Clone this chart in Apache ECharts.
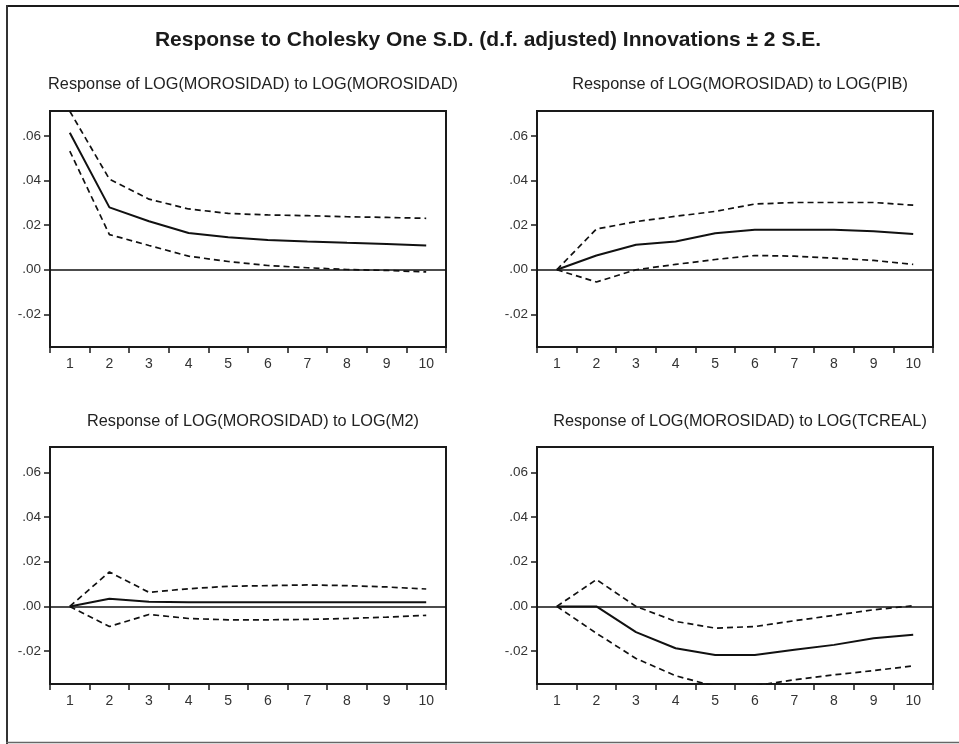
<!DOCTYPE html>
<html>
<head>
<meta charset="utf-8">
<script src="https://cdn.jsdelivr.net/npm/echarts@6/dist/echarts.min.js"></script>
<style>
html,body{margin:0;padding:0;background:#fff;}
#chart{width:959px;height:744px;}
</style>
</head>
<body>
<div id="chart"></div>
<script>
// ---- data ----
const periods = ['1','2','3','4','5','6','7','8','9','10'];
const yTicks = [-0.02, 0, 0.02, 0.04, 0.06];

const mainTitle = 'Response to Cholesky One S.D. (d.f. adjusted) Innovations \u00B1 2 S.E.';
const panelTitles = [
  'Response of LOG(MOROSIDAD) to LOG(MOROSIDAD)',
  'Response of LOG(MOROSIDAD) to LOG(PIB)',
  'Response of LOG(MOROSIDAD) to LOG(M2)',
  'Response of LOG(MOROSIDAD) to LOG(TCREAL)'
];

// Response of LOG(MOROSIDAD) to LOG(MOROSIDAD)
const morResp  = [0.0615, 0.0280, 0.0218, 0.0165, 0.0146, 0.0134, 0.0127, 0.0121, 0.0116, 0.0109];
const morUpper = [0.0712, 0.0407, 0.0317, 0.0273, 0.0253, 0.0246, 0.0243, 0.0238, 0.0235, 0.0231];
const morLower = [0.0533, 0.0158, 0.0109, 0.0061, 0.0037, 0.0019, 0.0009, 0.0001, -0.0003, -0.0010];

// Response of LOG(MOROSIDAD) to LOG(PIB)
const pibResp  = [0.0000, 0.0064, 0.0112, 0.0127, 0.0164, 0.0180, 0.0180, 0.0180, 0.0173, 0.0160];
const pibUpper = [0.0000, 0.0183, 0.0216, 0.0240, 0.0262, 0.0295, 0.0302, 0.0302, 0.0302, 0.0290];
const pibLower = [0.0000, -0.0055, 0.0000, 0.0024, 0.0046, 0.0064, 0.0061, 0.0052, 0.0042, 0.0024];

// Response of LOG(MOROSIDAD) to LOG(M2)
const m2Resp  = [0.0000, 0.0034, 0.0021, 0.0019, 0.0019, 0.0019, 0.0019, 0.0019, 0.0019, 0.0019];
const m2Upper = [0.0000, 0.0154, 0.0063, 0.0079, 0.0090, 0.0093, 0.0096, 0.0093, 0.0087, 0.0078];
const m2Lower = [0.0000, -0.0090, -0.0036, -0.0054, -0.0060, -0.0060, -0.0058, -0.0054, -0.0048, -0.0040];

// Response of LOG(MOROSIDAD) to LOG(TCREAL)
const tcResp  = [0.0000, 0.0000, -0.0115, -0.0187, -0.0217, -0.0217, -0.0194, -0.0172, -0.0142, -0.0127];
const tcUpper = [0.0000, 0.0120, 0.0000, -0.0067, -0.0097, -0.0090, -0.0064, -0.0040, -0.0015, 0.0003];
const tcLower = [0.0000, -0.0120, -0.0233, -0.0310, -0.0358, -0.0355, -0.0328, -0.0306, -0.0287, -0.0266];

const panels = [
  {resp: morResp, upper: morUpper, lower: morLower},
  {resp: pibResp, upper: pibUpper, lower: pibLower},
  {resp: m2Resp,  upper: m2Upper,  lower: m2Lower},
  {resp: tcResp,  upper: tcUpper,  lower: tcLower}
];

// ---- layout ----
const FONT = '"Liberation Sans", Arial, sans-serif';
const gridPos = [
  {left: 50,    top: 111, width: 396, height: 236},
  {left: 537,   top: 111, width: 396, height: 236},
  {left: 50,    top: 447, width: 396, height: 237},
  {left: 537,   top: 447, width: 396, height: 237}
];
const subTitleTop = [72, 72, 409, 409];

const fmt = v => {
  const s = Number(v).toFixed(2);
  return s.replace('0.', '.');
};

const grids = [], xAxes = [], yAxes = [], series = [], titles = [];

titles.push({
  text: mainTitle, left: 483, top: 25, textAlign: 'center',
  textStyle: {fontFamily: FONT, fontSize: 21, fontWeight: 'bold', color: '#1a1a1a'}
});

panels.forEach((p, i) => {
  const g = gridPos[i];
  grids.push({left: g.left, top: g.top, width: g.width, height: g.height,
    show: true, borderColor: '#1a1a1a', borderWidth: 2, backgroundColor: 'transparent'});
  titles.push({
    text: panelTitles[i], left: g.left + g.width / 2, top: subTitleTop[i], textAlign: 'center',
    textStyle: {fontFamily: FONT, fontSize: 16.3, fontWeight: 'normal', color: '#222'}
  });
  xAxes.push({
    type: 'category', gridIndex: i, data: periods, boundaryGap: true,
    axisLine: {show: true, onZero: false, lineStyle: {color: '#1a1a1a', width: 2}},
    axisTick: {show: true, inside: false, length: 6, lineStyle: {color: '#1a1a1a', width: 1.5}},
    axisLabel: {fontFamily: FONT, fontSize: 14, color: '#333', margin: 10},
    splitLine: {show: false}
  });
  yAxes.push({
    type: 'value', gridIndex: i, min: -0.0347, max: 0.0713,
    axisLine: {show: true, lineStyle: {color: '#1a1a1a', width: 2}},
    axisTick: {show: true, inside: false, length: 6, customValues: yTicks, lineStyle: {color: '#1a1a1a', width: 1.5}},
    axisLabel: {fontFamily: FONT, fontSize: 13.5, color: '#333', margin: 9, customValues: yTicks, formatter: fmt},
    splitLine: {show: false}
  });
  const base = {type: 'line', xAxisIndex: i, yAxisIndex: i, symbol: 'none', clip: true, silent: true, animation: false};
  series.push(Object.assign({}, base, {
    name: 'resp' + i, data: p.resp, lineStyle: {color: '#111', width: 2, type: 'solid'},
    markLine: {silent: true, symbol: 'none', label: {show: false}, animation: false,
      lineStyle: {color: '#111', width: 1.6, type: 'solid'}, data: [{yAxis: 0}]}
  }));
  series.push(Object.assign({}, base, {
    name: 'upper' + i, data: p.upper, lineStyle: {color: '#111', width: 1.7, type: [6, 4]}
  }));
  series.push(Object.assign({}, base, {
    name: 'lower' + i, data: p.lower, lineStyle: {color: '#111', width: 1.7, type: [6, 4]}
  }));
});

const chart = echarts.init(document.getElementById('chart'), null, {renderer: 'canvas'});
chart.setOption({
  backgroundColor: '#fff',
  animation: false,
  title: titles,
  grid: grids,
  xAxis: xAxes,
  yAxis: yAxes,
  series: series,
  graphic: [
    {type: 'line', shape: {x1: 6, y1: 6, x2: 959, y2: 6}, style: {stroke: '#1a1a1a', lineWidth: 2}, silent: true},
    {type: 'line', shape: {x1: 7, y1: 5, x2: 7, y2: 744}, style: {stroke: '#333', lineWidth: 2}, silent: true},
    {type: 'line', shape: {x1: 6, y1: 742.5, x2: 959, y2: 742.5}, style: {stroke: '#666', lineWidth: 1.5}, silent: true}
  ]
});
</script>
</body>
</html>
